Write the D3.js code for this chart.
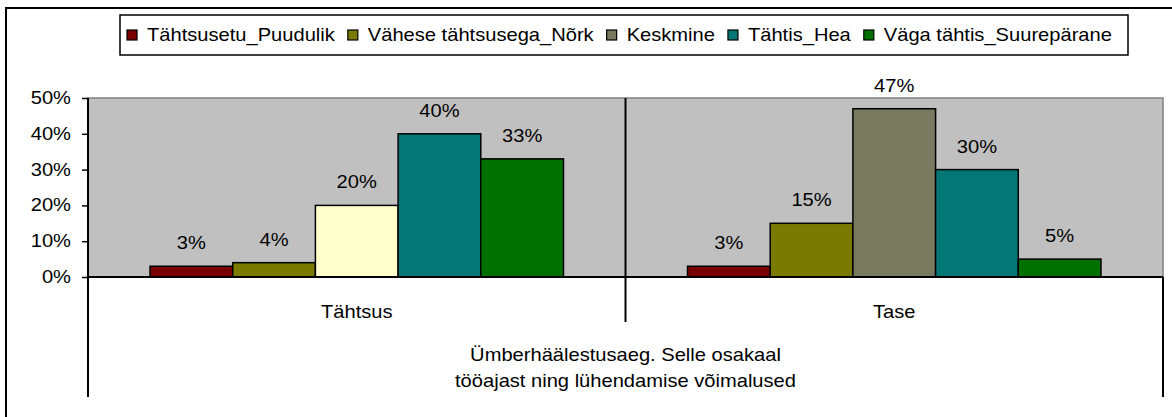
<!DOCTYPE html>
<html>
<head>
<meta charset="utf-8">
<script src="https://cdn.jsdelivr.net/npm/d3@7"></script>
<style>
  html, body { margin: 0; padding: 0; background: #fff; }
  svg { display: block; }
  text { font-family: "Liberation Sans", Arial, sans-serif; fill: #000; }
</style>
</head>
<body>
<svg id="chart" width="1172" height="417"></svg>
<script>
// Category groups on the x axis
const categories = ["Tähtsus", "Tase"];
// Rating series (legend order)
const series = ["Tähtsusetu_Puudulik", "Vähese tähtsusega_Nõrk", "Keskmine", "Tähtis_Hea", "Väga tähtis_Suurepärane"];
// Percent share for each series within a category
const tahtsusValues = [3, 4, 20, 40, 33];
const taseValues = [3, 15, 47, 30, 5];
// Y axis tick values (percent)
const yTicks = [0, 10, 20, 30, 40, 50];
// Outer axis title, two lines
const axisTitleLines = ["Ümberhäälestusaeg. Selle osakaal", "tööajast ning lühendamise võimalused"];

const seriesColors = ["#780000", "#7a7a00", "#79795f", "#037676", "#007000"];
// single data point drawn in its own colour
const pointOverride = { category: "Tähtsus", series: "Keskmine", color: "#FFFFCC" };

const valuesByCategory = { "Tähtsus": tahtsusValues, "Tase": taseValues };

const FONT = 17.5;
const SX = 1.15; // horizontal stretch of the chart lettering

const svg = d3.select("#chart");

function label(parent, x, y, str, anchor) {
  const g = parent.append("g").attr("transform", `translate(${x},${y}) scale(${SX},1)`);
  return g.append("text")
    .attr("text-anchor", anchor || "start")
    .attr("font-size", FONT)
    .text(str);
}

// Chart frame
svg.append("rect")
  .attr("x", 6).attr("y", 8)
  .attr("width", 1200).attr("height", 440)
  .attr("fill", "#fff").attr("stroke", "#000").attr("stroke-width", 2);

// Plot geometry
const plot = { left: 88, right: 1163, top: 98, bottom: 277 };

const y = d3.scaleLinear().domain([0, 50]).range([plot.bottom, plot.top]);
const x0 = d3.scaleBand().domain(categories).range([plot.left, plot.right]).padding(0);
const x1 = d3.scaleBand().domain(series).range([0, x0.bandwidth()])
  .paddingInner(0).paddingOuter(0.75);
const color = d3.scaleOrdinal().domain(series).range(seriesColors);

// Plot area background
svg.append("rect")
  .attr("x", plot.left).attr("y", plot.top)
  .attr("width", plot.right - plot.left).attr("height", plot.bottom - plot.top)
  .attr("fill", "#c0c0c0").attr("stroke", "#808080").attr("stroke-width", 1.5);

// Bars
const rows = [];
categories.forEach(c => {
  valuesByCategory[c].forEach((v, i) => rows.push({ category: c, series: series[i], value: v }));
});

const barG = svg.append("g");
barG.selectAll("rect")
  .data(rows)
  .join("rect")
  .attr("x", d => x0(d.category) + x1(d.series))
  .attr("y", d => y(d.value))
  .attr("width", x1.bandwidth())
  .attr("height", d => y(0) - y(d.value))
  .attr("fill", d => (d.category === pointOverride.category && d.series === pointOverride.series)
    ? pointOverride.color : color(d.series))
  .attr("stroke", "#000")
  .attr("stroke-width", 1.5);

// Value labels
const labelG = svg.append("g");
rows.forEach(d => {
  label(labelG, x0(d.category) + x1(d.series) + x1.bandwidth() / 2, y(d.value) - 17, d.value + "%", "middle");
});

// Y axis
const yAxis = d3.axisLeft(y).tickValues(yTicks).tickSize(6).tickPadding(0).tickFormat(() => "");
const yAxisG = svg.append("g").attr("transform", `translate(${plot.left},0)`).call(yAxis);
yAxisG.select(".domain").remove();
yAxisG.selectAll(".tick line").attr("stroke", "#000").attr("stroke-width", 1.5);
yTicks.forEach(t => label(svg, 71, y(t) + 6, t + "%", "end"));

// Axis lines and category dividers
const lineG = svg.append("g").attr("stroke", "#000").attr("stroke-width", 2);
lineG.append("line").attr("x1", plot.left).attr("x2", plot.left).attr("y1", plot.top).attr("y2", 397);
lineG.append("line").attr("x1", plot.left).attr("x2", plot.right).attr("y1", plot.bottom).attr("y2", plot.bottom);
lineG.append("line").attr("x1", plot.right).attr("x2", plot.right).attr("y1", plot.bottom).attr("y2", 397);
categories.slice(1).forEach(c => {
  lineG.append("line").attr("x1", x0(c)).attr("x2", x0(c)).attr("y1", plot.top).attr("y2", 322);
});

// Category labels
categories.forEach(c => label(svg, x0(c) + x0.bandwidth() / 2, 318, c, "middle"));

// Outer axis title
const midX = (plot.left + plot.right) / 2;
axisTitleLines.forEach((t, i) => label(svg, midX, 361 + i * 26, t, "middle"));

// Legend
const legendG = svg.append("g");
legendG.append("rect")
  .attr("x", 120).attr("y", 15).attr("width", 1008).attr("height", 40)
  .attr("fill", "#fff").attr("stroke", "#000").attr("stroke-width", 1.5);
let lx = 127;
series.forEach((s, i) => {
  legendG.append("rect")
    .attr("x", lx).attr("y", 30).attr("width", 10).attr("height", 10)
    .attr("fill", seriesColors[i]).attr("stroke", "#000").attr("stroke-width", 1.2);
  const t = label(legendG, lx + 20, 41, s, "start");
  const w = t.node().getComputedTextLength() * SX;
  lx = lx + 20 + w + 13;
});
</script>
</body>
</html>
